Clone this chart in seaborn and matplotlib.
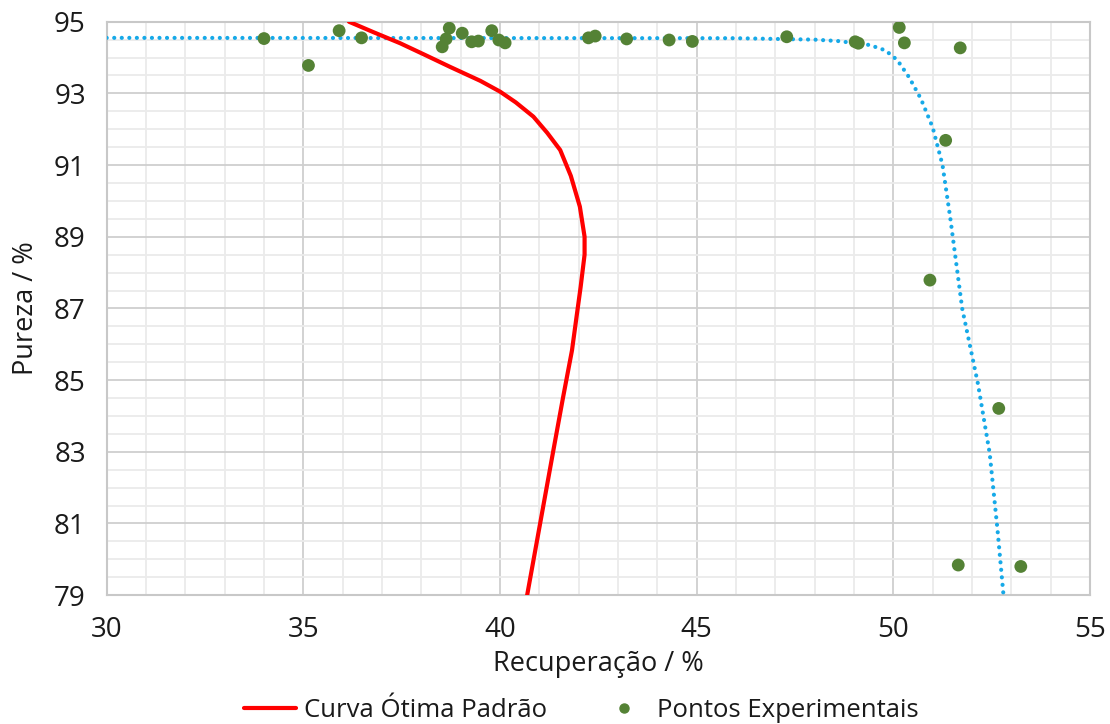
import matplotlib
matplotlib.use("Agg")
import matplotlib.pyplot as plt
from matplotlib.ticker import MultipleLocator, FixedLocator
from matplotlib.lines import Line2D
import seaborn as sns
import pandas as pd

# Curva ótima padrão (recuperação %, pureza %)
curva_rec = [36.16, 36.8, 37.46, 38.1, 38.73, 39.5, 40.0, 40.4, 40.85, 41.2,
             41.53, 41.8, 42.03, 42.15, 42.15, 42.05, 41.95, 41.83, 41.6, 41.35,
             41.02, 40.69]
curva_pur = [95.0, 94.7, 94.4, 94.07, 93.74, 93.35, 93.05, 92.75, 92.35, 91.9,
             91.42, 90.7, 89.84, 89.0, 88.5, 87.6, 86.8, 85.83, 84.5, 83.0,
             81.0, 79.0]

# Pontos experimentais
exp_rec = [34.0, 35.13, 35.91, 36.48, 38.53, 38.63, 38.71, 39.04, 39.28, 39.45,
           39.79, 39.97, 40.13, 42.25, 42.42, 43.22, 44.30, 44.89, 47.29, 49.03,
           49.11, 50.15, 50.28, 51.70, 51.33, 50.93, 52.68, 51.65, 53.24]
exp_pur = [94.53, 93.78, 94.75, 94.55, 94.30, 94.52, 94.82, 94.68, 94.44, 94.46,
           94.75, 94.49, 94.41, 94.55, 94.60, 94.52, 94.49, 94.45, 94.58, 94.44,
           94.40, 94.84, 94.41, 94.27, 91.69, 87.79, 84.21, 79.84, 79.80]

# Linha de tendência dos pontos experimentais
tend_rec = [30.0, 46.0, 48.0, 48.6, 49.4, 49.8, 50.1, 50.4, 50.7, 51.0,
            51.25, 51.45, 51.75, 52.15, 52.45, 52.65, 52.8]
tend_pur = [94.55, 94.54, 94.5, 94.46, 94.35, 94.2, 93.93, 93.45, 92.85, 92.05,
            91.0, 89.5, 87.0, 84.9, 82.95, 80.8, 79.0]

y_ticks = [79, 81, 83, 85, 87, 89, 91, 93, 95]

sns.set_theme(style="whitegrid")
plt.rcParams["font.family"] = ["Open Sans", "DejaVu Sans"]

fig = plt.figure(figsize=(11.1, 7.24), dpi=100)
ax = fig.add_axes([0.0961, 0.178, 0.8859, 0.792])

df_curva = pd.DataFrame({"rec": curva_rec, "pur": curva_pur})
df_exp = pd.DataFrame({"rec": exp_rec, "pur": exp_pur})
df_tend = pd.DataFrame({"rec": tend_rec, "pur": tend_pur})

sns.lineplot(data=df_tend, x="rec", y="pur", sort=False, estimator=None, ax=ax,
             color="#16A9E8", linewidth=3.0, linestyle=(0, (0.01, 1.8)),
             dash_capstyle="round", zorder=3)
sns.lineplot(data=df_curva, x="rec", y="pur", sort=False, estimator=None, ax=ax,
             color="#FF0000", linewidth=3.0, zorder=4)
sns.scatterplot(data=df_exp, x="rec", y="pur", ax=ax, color="#548235",
                s=85, edgecolor="none", zorder=5)

ax.set_xlim(30, 55)
ax.set_ylim(79, 95)
ax.xaxis.set_major_locator(MultipleLocator(5))
ax.xaxis.set_minor_locator(MultipleLocator(1))
ax.yaxis.set_major_locator(FixedLocator(y_ticks))
ax.yaxis.set_minor_locator(MultipleLocator(0.5))

ax.grid(which="major", color="#CFCFCF", linewidth=1.3)
ax.grid(which="minor", color="#EBEBEB", linewidth=1.3)
ax.set_axisbelow(True)
for side in ["left", "bottom", "top", "right"]:
    ax.spines[side].set_visible(True)
    ax.spines[side].set_color("#C8C8C8")
    ax.spines[side].set_linewidth(1.5)

ax.tick_params(axis="both", which="major", length=6, width=1.3, color="#BFBFBF",
               labelsize=20, labelcolor="#1A1A1A", direction="out")
ax.tick_params(axis="both", which="minor", length=0)
ax.tick_params(axis="x", pad=9)
ax.tick_params(axis="y", pad=9)

ax.set_xlabel("Recuperação / %", fontsize=19.5, color="#1A1A1A", labelpad=4)
ax.set_ylabel("Pureza / %", fontsize=19.5, color="#1A1A1A", labelpad=10)

handles = [
    Line2D([], [], color="#FF0000", linewidth=3.0),
    Line2D([], [], color="#548235", marker="o", linestyle="none", markersize=6.5),
]
fig.legend(handles, ["Curva Ótima Padrão", "Pontos Experimentais"],
           loc="lower center", bbox_to_anchor=(0.524, -0.03), ncol=2,
           frameon=False, fontsize=18.5, handlelength=2.0, handletextpad=0.3,
           columnspacing=2.0, labelcolor="#1A1A1A")

fig.savefig("out.png", dpi=100, facecolor="white")
